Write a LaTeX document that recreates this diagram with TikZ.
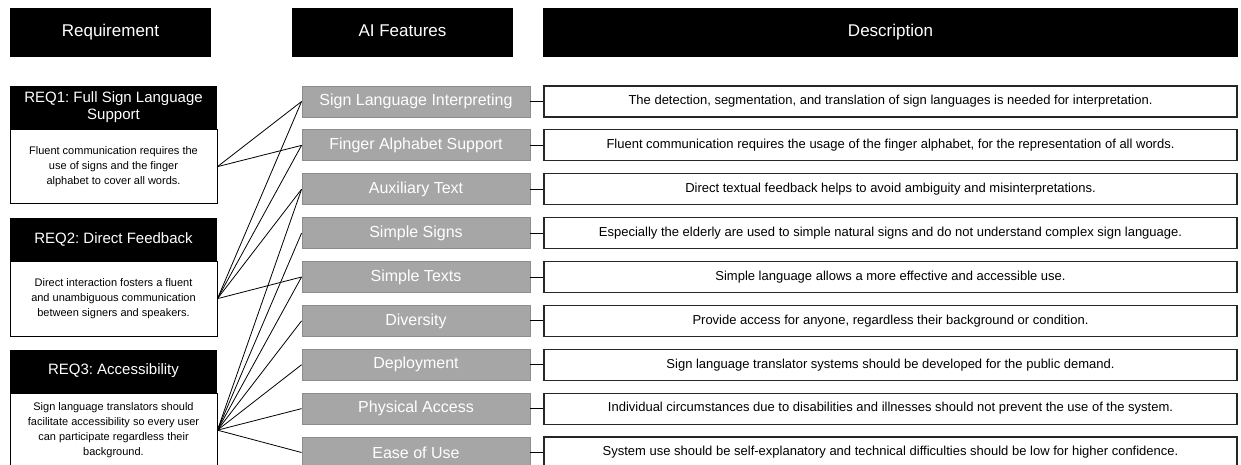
\documentclass[tikz,border=0pt]{standalone}
\usepackage{fontspec}
\setmainfont{Liberation Sans}
\usetikzlibrary{positioning}
\frenchspacing

\begin{document}
\begin{tikzpicture}[x=1pt, y=-1pt,
  colhead/.style={fill=black, text=white, minimum height=49pt, inner sep=0pt,
    text height=12pt, text depth=3.5pt, font=\fontsize{17}{20}\selectfont},
  reqtitle/.style={fill=black, text=white, minimum width=207pt, minimum height=43pt,
    inner sep=0pt, align=center, font=\fontsize{15}{17}\selectfont},
  reqbody/.style={draw=black, line width=0.9pt, fill=white, minimum width=207pt,
    inner sep=0pt, align=center, font=\fontsize{11}{15}\selectfont},
  feature/.style={draw=black!45, fill=black!35, text=white, line width=0.9pt,
    minimum width=228pt, minimum height=31pt, inner sep=0pt,
    font=\fontsize{16}{19}\selectfont},
  descbox/.style={draw=black!85, line width=1.2pt, minimum width=693pt,
    minimum height=31pt, inner sep=0pt, font=\fontsize{13}{15}\selectfont},
  link/.style={line width=0.8pt}]

\clip (0, 0) rectangle (1241, 464);

% --- Column headers ---
\node[colhead, minimum width=201pt] (hreq) at (110.5, 32.5) {Requirement};
\node[colhead, minimum width=221pt] (hfeat) at (402.5, 32.5) {AI Features};
\node[colhead, minimum width=695pt] (hdesc) at (890.5, 32.5) {Description};

% --- Requirements ---
\node[reqtitle] (r1t) at (113.5, 107.5) {REQ1: Full Sign Language\\Support};
\node[reqbody, minimum height=74pt, below=0pt of r1t] (r1)
  {Fluent communication requires the\\use of signs and the finger\\alphabet to cover all words.};

\node[reqtitle] (r2t) at (113.5, 239) {REQ2: Direct Feedback};
\node[reqbody, minimum height=75pt, below=0pt of r2t] (r2)
  {Direct interaction fosters a fluent\\and unambiguous communication\\between signers and speakers.};

\node[reqtitle] (r3t) at (113.5, 371) {REQ3: Accessibility};
\node[reqbody, minimum height=74pt, below=0pt of r3t] (r3)
  {Sign language translators should\\facilitate accessibility so every user\\can participate regardless their\\background.};

% --- AI features and descriptions ---
\foreach \i/\feat/\desc in {
  1/{Sign Language Interpreting}/{The detection, segmentation, and translation of sign languages is needed for interpretation.},
  2/{Finger Alphabet Support}/{Fluent communication requires the usage of the finger alphabet, for the representation of all words.},
  3/{Auxiliary Text}/{Direct textual feedback helps to avoid ambiguity and misinterpretations.},
  4/{Simple Signs}/{Especially the elderly are used to simple natural signs and do not understand complex sign language.},
  5/{Simple Texts}/{Simple language allows a more effective and accessible use.},
  6/{Diversity}/{Provide access for anyone, regardless their background or condition.},
  7/{Deployment}/{Sign language translator systems should be developed for the public demand.},
  8/{Physical Access}/{Individual circumstances due to disabilities and illnesses should not prevent the use of the system.},
  9/{Ease of Use}/{System use should be self-explanatory and technical difficulties should be low for higher confidence.}} {
  \node[feature] (f\i) at (416, {101.5+43.875*(\i-1)}) {\feat};
  \node[descbox] (d\i) at (890.5, {101.5+43.875*(\i-1)}) {\desc};
  \draw[link] (f\i.east) -- (d\i.west);
}

% --- Requirement to feature links ---
\foreach \r/\f in {1/1, 1/2, 2/1, 2/2, 2/3, 2/5, 3/3, 3/4, 3/5, 3/6, 3/7, 3/8, 3/9} {
  \draw[link] (r\r.east) -- (f\f.west);
}

\end{tikzpicture}
\end{document}
